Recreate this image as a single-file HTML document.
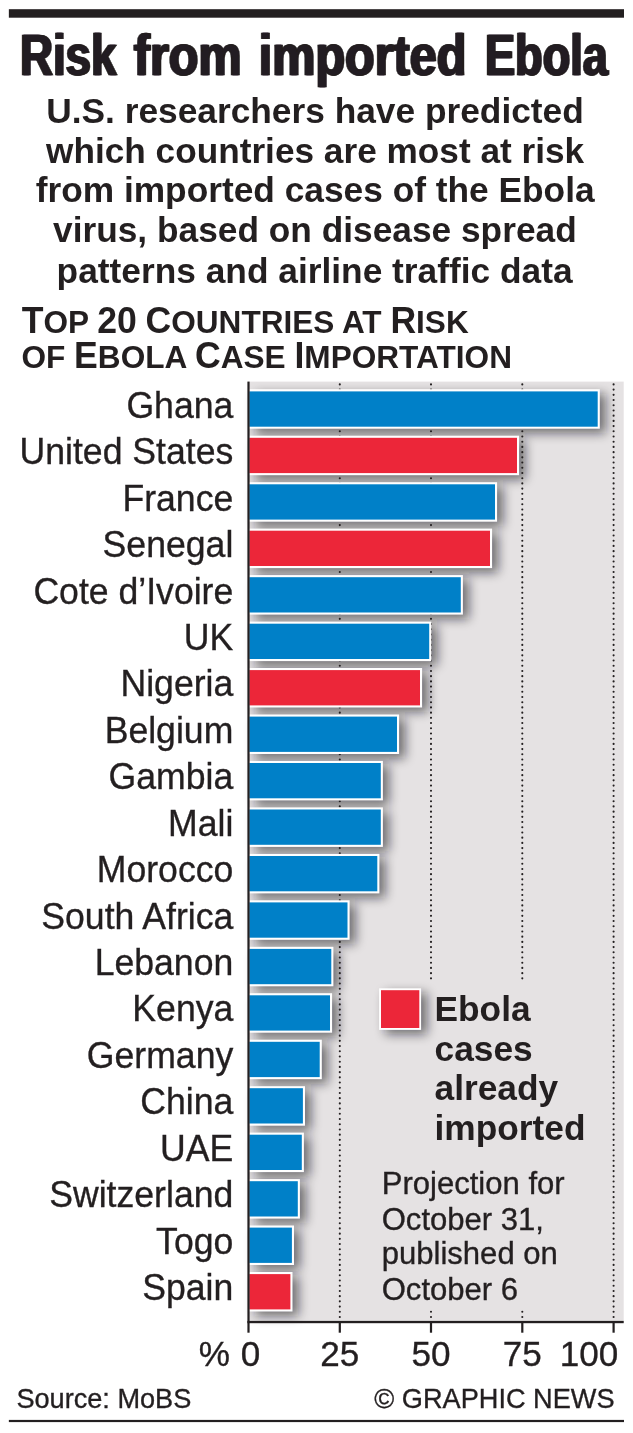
<!DOCTYPE html>
<html lang="en"><head><meta charset="utf-8"><title>Risk from imported Ebola</title>
<style>html,body{margin:0;padding:0;background:#fff}svg{display:block}text{font-family:'Liberation Sans', Arial, Helvetica, sans-serif;fill:#231f20}</style></head><body>
<svg width="633" height="1433" viewBox="0 0 633 1433">
<defs><filter id="sh" x="230" y="370" width="403" height="980" filterUnits="userSpaceOnUse"><feGaussianBlur stdDeviation="5.2"/></filter><filter id="fat" x="-2%" y="-5%" width="104%" height="110%"><feOffset in="SourceGraphic" dx="-1.4" result="a"/><feOffset in="SourceGraphic" dx="1.4" result="b"/><feMerge><feMergeNode in="a"/><feMergeNode in="b"/><feMergeNode in="SourceGraphic"/></feMerge></filter></defs>
<rect width="633" height="1433" fill="#fff"/>
<rect x="8.85" y="9.2" width="615.15" height="8.5" fill="#231f20"/>
<text y="75" font-size="58.2" font-weight="700" filter="url(#fat)" stroke="#231f20" stroke-width="0.5"><tspan x="19.9" textLength="96.6" lengthAdjust="spacingAndGlyphs">Risk</tspan> <tspan x="133.8" textLength="107.9" lengthAdjust="spacingAndGlyphs">from</tspan> <tspan x="258.8" textLength="207.5" lengthAdjust="spacingAndGlyphs">imported</tspan> <tspan x="485.0" textLength="122.9" lengthAdjust="spacingAndGlyphs">Ebola</tspan></text>
<text x="46.2" y="123.0" font-size="35.8" font-weight="700" textLength="537.6" lengthAdjust="spacingAndGlyphs">U.S. researchers have predicted</text>
<text x="46.0" y="163.0" font-size="35.8" font-weight="700" textLength="538.2" lengthAdjust="spacingAndGlyphs">which countries are most at risk</text>
<text x="35.7" y="202.0" font-size="35.8" font-weight="700" textLength="558.9" lengthAdjust="spacingAndGlyphs">from imported cases of the Ebola</text>
<text x="53.0" y="242.0" font-size="35.8" font-weight="700" textLength="523.7" lengthAdjust="spacingAndGlyphs">virus, based on disease spread</text>
<text x="56.6" y="283.0" font-size="35.8" font-weight="700" textLength="516.0" lengthAdjust="spacingAndGlyphs">patterns and airline traffic data</text>
<text x="21.7" y="332.5" font-size="32.2" font-weight="700" textLength="447" lengthAdjust="spacingAndGlyphs"><tspan font-size="36.3">T</tspan>OP <tspan font-size="36.3">20</tspan> <tspan font-size="36.3">C</tspan>OUNTRIES AT <tspan font-size="36.3">R</tspan>ISK</text>
<text x="21.4" y="367.8" font-size="32.2" font-weight="700" textLength="490.6" lengthAdjust="spacingAndGlyphs">OF <tspan font-size="36.3">E</tspan>BOLA <tspan font-size="36.3">C</tspan>ASE <tspan font-size="36.3">I</tspan>MPORTATION</text>
<rect x="248" y="381.6" width="375.7" height="940.9" fill="#e5e2e3"/>
<g filter="url(#sh)" opacity="0.55" fill="#0a0a14">
<rect x="255.3" y="393.8" width="350.5" height="39.5"/>
<rect x="255.3" y="440.2" width="269.8" height="39.5"/>
<rect x="255.3" y="486.7" width="247.8" height="39.5"/>
<rect x="255.3" y="533.1" width="242.8" height="39.5"/>
<rect x="255.3" y="579.6" width="213.6" height="39.5"/>
<rect x="255.3" y="626.1" width="182.0" height="39.5"/>
<rect x="255.3" y="672.5" width="172.8" height="39.5"/>
<rect x="255.3" y="719.0" width="149.8" height="39.5"/>
<rect x="255.3" y="765.4" width="133.6" height="39.5"/>
<rect x="255.3" y="811.9" width="133.6" height="39.5"/>
<rect x="255.3" y="858.4" width="130.1" height="39.5"/>
<rect x="255.3" y="904.8" width="100.3" height="39.5"/>
<rect x="255.3" y="951.3" width="84.1" height="39.5"/>
<rect x="255.3" y="997.7" width="82.8" height="39.5"/>
<rect x="255.3" y="1044.2" width="72.5" height="39.5"/>
<rect x="255.3" y="1090.7" width="55.7" height="39.5"/>
<rect x="255.3" y="1137.1" width="54.6" height="39.5"/>
<rect x="255.3" y="1183.6" width="50.6" height="39.5"/>
<rect x="255.3" y="1230.0" width="44.7" height="39.5"/>
<rect x="255.3" y="1276.5" width="43.2" height="39.5"/>
<rect x="385.1" y="992.8" width="42" height="41.6"/>
</g>
<line x1="339.8" y1="384.4" x2="339.8" y2="1321.0" stroke="#231f20" stroke-width="2.1" stroke-dasharray="0.01 5.20" stroke-linecap="round"/>
<line x1="431.0" y1="384.4" x2="431.0" y2="979.0" stroke="#231f20" stroke-width="2.1" stroke-dasharray="0.01 5.20" stroke-linecap="round"/>
<line x1="431.0" y1="1311.8" x2="431.0" y2="1320.0" stroke="#231f20" stroke-width="2.1" stroke-dasharray="0.01 5.20" stroke-linecap="round"/>
<line x1="522.3" y1="384.4" x2="522.3" y2="979.0" stroke="#231f20" stroke-width="2.1" stroke-dasharray="0.01 5.20" stroke-linecap="round"/>
<line x1="522.3" y1="1311.8" x2="522.3" y2="1320.0" stroke="#231f20" stroke-width="2.1" stroke-dasharray="0.01 5.20" stroke-linecap="round"/>
<line x1="613.6" y1="384.4" x2="613.6" y2="1321.0" stroke="#231f20" stroke-width="2.1" stroke-dasharray="0.01 5.20" stroke-linecap="round"/>
<rect x="248.8" y="389.2" width="351.0" height="39.5" fill="#fff"/>
<rect x="249.3" y="391.4" width="348.4" height="35.3" fill="#0080c8"/>
<text transform="translate(233.3 417.9) scale(0.968 1)" font-size="36.8" text-anchor="end" stroke="#231f20" stroke-width="0.35">Ghana</text>
<rect x="248.8" y="435.7" width="270.3" height="39.5" fill="#fff"/>
<rect x="249.3" y="437.8" width="267.7" height="35.3" fill="#ec2639"/>
<text transform="translate(233.3 464.3) scale(0.968 1)" font-size="36.8" text-anchor="end" stroke="#231f20" stroke-width="0.35">United States</text>
<rect x="248.8" y="482.2" width="248.3" height="39.5" fill="#fff"/>
<rect x="249.3" y="484.3" width="245.7" height="35.3" fill="#0080c8"/>
<text transform="translate(233.3 510.7) scale(0.968 1)" font-size="36.8" text-anchor="end" stroke="#231f20" stroke-width="0.35">France</text>
<rect x="248.8" y="528.6" width="243.3" height="39.5" fill="#fff"/>
<rect x="249.3" y="530.7" width="240.7" height="35.3" fill="#ec2639"/>
<text transform="translate(233.3 557.2) scale(0.968 1)" font-size="36.8" text-anchor="end" stroke="#231f20" stroke-width="0.35">Senegal</text>
<rect x="248.8" y="575.1" width="214.1" height="39.5" fill="#fff"/>
<rect x="249.3" y="577.2" width="211.5" height="35.3" fill="#0080c8"/>
<text transform="translate(233.3 603.6) scale(0.968 1)" font-size="36.8" text-anchor="end" stroke="#231f20" stroke-width="0.35">Cote d’Ivoire</text>
<rect x="248.8" y="621.6" width="182.5" height="39.5" fill="#fff"/>
<rect x="249.3" y="623.7" width="179.9" height="35.3" fill="#0080c8"/>
<text transform="translate(233.3 650.0) scale(0.968 1)" font-size="36.8" text-anchor="end" stroke="#231f20" stroke-width="0.35">UK</text>
<rect x="248.8" y="668.0" width="173.3" height="39.5" fill="#fff"/>
<rect x="249.3" y="670.1" width="170.7" height="35.3" fill="#ec2639"/>
<text transform="translate(233.3 696.4) scale(0.968 1)" font-size="36.8" text-anchor="end" stroke="#231f20" stroke-width="0.35">Nigeria</text>
<rect x="248.8" y="714.5" width="150.3" height="39.5" fill="#fff"/>
<rect x="249.3" y="716.6" width="147.7" height="35.3" fill="#0080c8"/>
<text transform="translate(233.3 742.8) scale(0.968 1)" font-size="36.8" text-anchor="end" stroke="#231f20" stroke-width="0.35">Belgium</text>
<rect x="248.8" y="760.9" width="134.1" height="39.5" fill="#fff"/>
<rect x="249.3" y="763.0" width="131.5" height="35.3" fill="#0080c8"/>
<text transform="translate(233.3 789.3) scale(0.968 1)" font-size="36.8" text-anchor="end" stroke="#231f20" stroke-width="0.35">Gambia</text>
<rect x="248.8" y="807.4" width="134.1" height="39.5" fill="#fff"/>
<rect x="249.3" y="809.5" width="131.5" height="35.3" fill="#0080c8"/>
<text transform="translate(233.3 835.7) scale(0.968 1)" font-size="36.8" text-anchor="end" stroke="#231f20" stroke-width="0.35">Mali</text>
<rect x="248.8" y="853.9" width="130.6" height="39.5" fill="#fff"/>
<rect x="249.3" y="856.0" width="128.0" height="35.3" fill="#0080c8"/>
<text transform="translate(233.3 882.1) scale(0.968 1)" font-size="36.8" text-anchor="end" stroke="#231f20" stroke-width="0.35">Morocco</text>
<rect x="248.8" y="900.3" width="100.8" height="39.5" fill="#fff"/>
<rect x="249.3" y="902.4" width="98.2" height="35.3" fill="#0080c8"/>
<text transform="translate(233.3 928.5) scale(0.968 1)" font-size="36.8" text-anchor="end" stroke="#231f20" stroke-width="0.35">South Africa</text>
<rect x="248.8" y="946.8" width="84.6" height="39.5" fill="#fff"/>
<rect x="249.3" y="948.9" width="82.0" height="35.3" fill="#0080c8"/>
<text transform="translate(233.3 974.9) scale(0.968 1)" font-size="36.8" text-anchor="end" stroke="#231f20" stroke-width="0.35">Lebanon</text>
<rect x="248.8" y="993.2" width="83.3" height="39.5" fill="#fff"/>
<rect x="249.3" y="995.3" width="80.7" height="35.3" fill="#0080c8"/>
<text transform="translate(233.3 1021.4) scale(0.968 1)" font-size="36.8" text-anchor="end" stroke="#231f20" stroke-width="0.35">Kenya</text>
<rect x="248.8" y="1039.7" width="73.0" height="39.5" fill="#fff"/>
<rect x="249.3" y="1041.8" width="70.4" height="35.3" fill="#0080c8"/>
<text transform="translate(233.3 1067.8) scale(0.968 1)" font-size="36.8" text-anchor="end" stroke="#231f20" stroke-width="0.35">Germany</text>
<rect x="248.8" y="1086.2" width="56.2" height="39.5" fill="#fff"/>
<rect x="249.3" y="1088.2" width="53.6" height="35.3" fill="#0080c8"/>
<text transform="translate(233.3 1114.2) scale(0.968 1)" font-size="36.8" text-anchor="end" stroke="#231f20" stroke-width="0.35">China</text>
<rect x="248.8" y="1132.6" width="55.1" height="39.5" fill="#fff"/>
<rect x="249.3" y="1134.7" width="52.5" height="35.3" fill="#0080c8"/>
<text transform="translate(233.3 1160.6) scale(0.968 1)" font-size="36.8" text-anchor="end" stroke="#231f20" stroke-width="0.35">UAE</text>
<rect x="248.8" y="1179.1" width="51.1" height="39.5" fill="#fff"/>
<rect x="249.3" y="1181.2" width="48.5" height="35.3" fill="#0080c8"/>
<text transform="translate(233.3 1207.0) scale(0.968 1)" font-size="36.8" text-anchor="end" stroke="#231f20" stroke-width="0.35">Switzerland</text>
<rect x="248.8" y="1225.5" width="45.2" height="39.5" fill="#fff"/>
<rect x="249.3" y="1227.6" width="42.6" height="35.3" fill="#0080c8"/>
<text transform="translate(233.3 1253.5) scale(0.968 1)" font-size="36.8" text-anchor="end" stroke="#231f20" stroke-width="0.35">Togo</text>
<rect x="248.8" y="1272.0" width="43.7" height="39.5" fill="#fff"/>
<rect x="249.3" y="1274.1" width="41.1" height="35.3" fill="#ec2639"/>
<text transform="translate(233.3 1299.9) scale(0.968 1)" font-size="36.8" text-anchor="end" stroke="#231f20" stroke-width="0.35">Spain</text>
<rect x="379.1" y="988.3" width="42" height="41.6" fill="#fff"/>
<rect x="381" y="990.2" width="38.3" height="37.8" fill="#ec2639"/>
<text transform="translate(434.5 1020.8) scale(0.986 1)" font-size="35.8" font-weight="700">Ebola</text>
<text transform="translate(434.5 1061.0) scale(0.986 1)" font-size="35.8" font-weight="700">cases</text>
<text transform="translate(434.5 1100.3) scale(0.986 1)" font-size="35.8" font-weight="700">already</text>
<text transform="translate(434.5 1140.4) scale(0.986 1)" font-size="35.8" font-weight="700">imported</text>
<text transform="translate(381.7 1194.2) scale(0.980 1)" font-size="31.7" stroke="#231f20" stroke-width="0.35">Projection for</text>
<text transform="translate(381.7 1229.7) scale(0.980 1)" font-size="31.7" stroke="#231f20" stroke-width="0.35">October 31,</text>
<text transform="translate(381.7 1264.1) scale(0.980 1)" font-size="31.7" stroke="#231f20" stroke-width="0.35">published on</text>
<text transform="translate(381.7 1299.7) scale(0.980 1)" font-size="31.7" stroke="#231f20" stroke-width="0.35">October 6</text>
<rect x="247.4" y="381.6" width="2.2" height="951.1" fill="#231f20"/>
<rect x="247.4" y="1320.9" width="376.3" height="2.3" fill="#231f20"/>
<rect x="338.7" y="1322" width="2.2" height="10.7" fill="#231f20"/>
<rect x="429.9" y="1322" width="2.2" height="10.7" fill="#231f20"/>
<rect x="521.2" y="1322" width="2.2" height="10.7" fill="#231f20"/>
<rect x="612.5" y="1322" width="2.2" height="10.7" fill="#231f20"/>
<text transform="translate(214.3 1365.6) scale(0.980 1)" font-size="35.8" text-anchor="middle" stroke="#231f20" stroke-width="0.35">%</text>
<text transform="translate(250.5 1365.6) scale(0.980 1)" font-size="35.8" text-anchor="middle" stroke="#231f20" stroke-width="0.35">0</text>
<text transform="translate(339.8 1365.6) scale(0.980 1)" font-size="35.8" text-anchor="middle" stroke="#231f20" stroke-width="0.35">25</text>
<text transform="translate(431.0 1365.6) scale(0.980 1)" font-size="35.8" text-anchor="middle" stroke="#231f20" stroke-width="0.35">50</text>
<text transform="translate(522.3 1365.6) scale(0.980 1)" font-size="35.8" text-anchor="middle" stroke="#231f20" stroke-width="0.35">75</text>
<text transform="translate(618.2 1365.6) scale(0.980 1)" font-size="35.8" text-anchor="end" stroke="#231f20" stroke-width="0.35">100</text>
<text transform="translate(16.4 1408.0) scale(0.980 1)" font-size="27.7" stroke="#231f20" stroke-width="0.35">Source: MoBS</text>
<text transform="translate(614.6 1408.0) scale(0.981 1)" font-size="27.7" text-anchor="end" stroke="#231f20" stroke-width="0.35">© GRAPHIC NEWS</text>
<rect x="8.85" y="1419.9" width="615.15" height="2.2" fill="#231f20"/>
</svg></body></html>
